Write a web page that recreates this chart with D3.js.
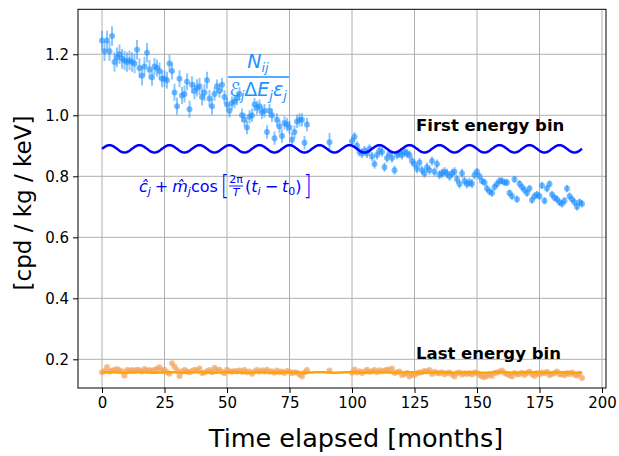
<!DOCTYPE html>
<html>
<head>
<meta charset="utf-8">
<script src="https://cdn.jsdelivr.net/npm/d3@7"></script>
<style>
  body { margin: 0; background: #fff; }
  svg { display: block; font-family: "DejaVu Sans", sans-serif; }
</style>
</head>
<body>
<svg id="chart" width="619" height="456"></svg>
<script>
// ---------------- data ----------------
const xTicks = [0, 25, 50, 75, 100, 125, 150, 175, 200];
const yTicks = [0.2, 0.4, 0.6, 0.8, 1.0, 1.2];

const monthsA = d3.range(0, 83);          // 0..82
const monthsB = [91];
const monthsC = d3.range(100, 193);       // 100..192
const months = monthsA.concat(monthsB, monthsC);

const firstBin = [
  1.245, 1.21, 1.245, 1.21, 1.26,
  1.175, 1.19, 1.20, 1.185, 1.18,
  1.175, 1.18, 1.175, 1.17, 1.215,
  1.155, 1.13, 1.16, 1.205, 1.15,
  1.125, 1.16, 1.155, 1.145, 1.12,
  1.12, 1.115, 1.17, 1.145, 1.075,
  1.03, 1.12, 1.065, 1.07, 1.11,
  1.02, 1.10, 1.08, 1.09, 1.095,
  1.06, 1.075, 1.115, 1.055, 1.03,
  1.07, 1.095, 1.08, 1.10, 1.06,
  1.035, 1.015, 1.04, 1.045, 1.055,
  1.07, 1.00, 0.985, 0.96, 0.995,
  1.00, 1.035, 1.025, 1.03, 1.01,
  1.015, 0.945, 1.015, 1.00, 0.925,
  0.985, 0.963, 0.932, 0.975, 0.97,
  0.96, 0.92, 0.945, 0.98, 0.985,
  0.985, 0.91, 0.97,
  0.912,
  0.915, 0.93, 0.90, 0.88, 0.875,
  0.885, 0.875, 0.89, 0.865, 0.84,
  0.87, 0.885, 0.88, 0.83, 0.86,
  0.875, 0.86, 0.82, 0.87, 0.875,
  0.87, 0.88, 0.875, 0.87, 0.85,
  0.84, 0.825, 0.845, 0.82, 0.81,
  0.83, 0.82, 0.85, 0.815, 0.84,
  0.805, 0.81, 0.815, 0.81, 0.80,
  0.81, 0.815, 0.79, 0.775, 0.81,
  0.785, 0.775, 0.78, 0.776, 0.804,
  0.815, 0.80, 0.785, 0.78, 0.76,
  0.75, 0.745, 0.765, 0.775, 0.785,
  0.785, 0.78, 0.78, 0.745, 0.735,
  0.79, 0.725, 0.776, 0.765, 0.755,
  0.745, 0.76, 0.722, 0.735, 0.74,
  0.735, 0.77, 0.72, 0.76, 0.775,
  0.74, 0.73, 0.725, 0.715, 0.71,
  0.72, 0.76, 0.735, 0.725, 0.715,
  0.70, 0.715, 0.71
];

// error bar half-heights for the first bin, by starting month
const firstBinErrStart = [0, 20, 45, 91, 100, 150];
const firstBinErrValue = [0.032, 0.028, 0.022, 0.03, 0.015, 0.012];

const lastBin = [
  0.158, 0.162, 0.175, 0.160, 0.163,
  0.165, 0.168, 0.164, 0.160, 0.146,
  0.165, 0.163, 0.165, 0.162, 0.166,
  0.164, 0.160, 0.168, 0.163, 0.165,
  0.161, 0.166, 0.168, 0.174, 0.163,
  0.166, 0.158, 0.153, 0.187, 0.176,
  0.165, 0.145, 0.160, 0.165, 0.160,
  0.158, 0.162, 0.166, 0.163, 0.170,
  0.155, 0.157, 0.161, 0.165, 0.158,
  0.172, 0.164, 0.166, 0.159, 0.154,
  0.166, 0.161, 0.159, 0.162, 0.160,
  0.163, 0.159, 0.165, 0.158, 0.160,
  0.153, 0.160, 0.165, 0.159, 0.164,
  0.160, 0.166, 0.159, 0.161, 0.156,
  0.163, 0.158, 0.160, 0.155, 0.162,
  0.159, 0.154, 0.158, 0.156, 0.150,
  0.144, 0.157, 0.165,
  0.163,
  0.156, 0.167, 0.157, 0.161, 0.155,
  0.160, 0.166, 0.159, 0.161, 0.165,
  0.158, 0.164, 0.160, 0.163, 0.167,
  0.165, 0.170, 0.155, 0.158, 0.160,
  0.149, 0.152, 0.155, 0.144, 0.150,
  0.149, 0.154, 0.157, 0.158, 0.162,
  0.160, 0.165, 0.152, 0.159, 0.155,
  0.154, 0.158, 0.151, 0.155, 0.157,
  0.150, 0.144, 0.155, 0.157, 0.150,
  0.154, 0.152, 0.155, 0.150, 0.157,
  0.155, 0.149, 0.144, 0.141, 0.145,
  0.150, 0.146, 0.155, 0.157, 0.159,
  0.163, 0.155, 0.151, 0.148, 0.144,
  0.155, 0.150, 0.152, 0.156, 0.149,
  0.155, 0.160, 0.151, 0.145, 0.155,
  0.150, 0.157, 0.154, 0.159, 0.148,
  0.152, 0.155, 0.160, 0.150, 0.153,
  0.148, 0.155, 0.152, 0.157, 0.150,
  0.146, 0.153, 0.139
];

// fitted model  c + m cos(2π/T (t - t0))
const fitFirst = { c: 0.89, m: 0.012, T: 12, t0: 3 };
const fitLast  = { c: 0.157, m: 0.0008, T: 12, t0: 3 };
const fitSpan = [0, 192];

// ---------------- chart ----------------
const svg = d3.select("#chart");
const x = d3.scaleLinear().domain([-9.6, 201.6]).range([78, 606]);
const y = d3.scaleLinear().domain([0.106, 1.3475]).range([388, 9.3]);

// grid
const grid = svg.append("g");
grid.selectAll("line.gx").data(xTicks).join("line")
  .attr("x1", d => x(d)).attr("x2", d => x(d))
  .attr("y1", y.range()[0]).attr("y2", y.range()[1])
  .attr("stroke", "#b0b0b0").attr("stroke-width", 1);
grid.selectAll("line.gy").data(yTicks).join("line")
  .attr("y1", d => y(d)).attr("y2", d => y(d))
  .attr("x1", x.range()[0]).attr("x2", x.range()[1])
  .attr("stroke", "#b0b0b0").attr("stroke-width", 1);

const errOf = t => {
  let e = firstBinErrValue[0];
  firstBinErrStart.forEach((s, i) => { if (t >= s) e = firstBinErrValue[i]; });
  return e;
};

const ptsFirst = months.map((t, i) => ({ t, v: firstBin[i], e: errOf(t) }));
const ptsLast = months.map((t, i) => ({ t, v: lastBin[i], e: 0.004 }));

// first bin error bars + points
const gF = svg.append("g");
gF.selectAll("line").data(ptsFirst).join("line")
  .attr("x1", d => x(d.t)).attr("x2", d => x(d.t))
  .attr("y1", d => y(d.v - d.e)).attr("y2", d => y(d.v + d.e))
  .attr("stroke", "#1e90ff").attr("stroke-opacity", 0.5).attr("stroke-width", 2);
gF.selectAll("circle").data(ptsFirst).join("circle")
  .attr("cx", d => x(d.t)).attr("cy", d => y(d.v)).attr("r", 3)
  .attr("fill", "#1e90ff").attr("fill-opacity", 0.6);

// last bin points
const gL = svg.append("g");
gL.selectAll("line").data(ptsLast).join("line")
  .attr("x1", d => x(d.t)).attr("x2", d => x(d.t))
  .attr("y1", d => y(d.v - d.e)).attr("y2", d => y(d.v + d.e))
  .attr("stroke", "#f4a460").attr("stroke-opacity", 0.5).attr("stroke-width", 2);
gL.selectAll("circle").data(ptsLast).join("circle")
  .attr("cx", d => x(d.t)).attr("cy", d => y(d.v)).attr("r", 3)
  .attr("fill", "#f4a460").attr("fill-opacity", 0.7);

// fit lines
const tFine = d3.range(fitSpan[0], fitSpan[1] + 0.001, 0.25);
const model = p => t => p.c + p.m * Math.cos(2 * Math.PI / p.T * (t - p.t0));
const line = d3.line().x(d => x(d[0])).y(d => y(d[1]));
svg.append("path").datum(tFine.map(t => [t, model(fitFirst)(t)]))
  .attr("d", line).attr("fill", "none").attr("stroke", "#0000ff").attr("stroke-width", 2.5);
svg.append("path").datum(tFine.map(t => [t, model(fitLast)(t)]))
  .attr("d", line).attr("fill", "none").attr("stroke", "#ffa500").attr("stroke-width", 2.5);

// axes
const xAxis = svg.append("g").attr("transform", `translate(0,${y.range()[0]})`)
  .call(d3.axisBottom(x).tickValues(xTicks).tickFormat(d3.format("d")).tickSizeInner(5).tickSizeOuter(0).tickPadding(4));
const yAxis = svg.append("g").attr("transform", `translate(${x.range()[0]},0)`)
  .call(d3.axisLeft(y).tickValues(yTicks).tickFormat(d3.format(".1f")).tickSizeInner(5).tickSizeOuter(0).tickPadding(4));
[xAxis, yAxis].forEach(a => {
  a.select(".domain").remove();
  a.selectAll("text").attr("font-size", 15).attr("font-family", "DejaVu Sans").attr("fill", "#000");
  a.selectAll("line").attr("stroke", "#000");
});
// frame
svg.append("rect").attr("x", x.range()[0]).attr("y", y.range()[1])
  .attr("width", x.range()[1] - x.range()[0]).attr("height", y.range()[0] - y.range()[1])
  .attr("fill", "none").attr("stroke", "#000").attr("stroke-width", 1);

// axis labels
svg.append("text").attr("x", 356).attr("y", 447).attr("text-anchor", "middle")
  .attr("font-size", 25.5).text("Time elapsed [months]");
svg.append("text").attr("transform", "translate(31,203) rotate(-90)").attr("text-anchor", "middle")
  .attr("font-size", 23).text("[cpd / kg / keV]");

// annotations
svg.append("text").attr("x", 416).attr("y", 131).attr("font-size", 16.5).attr("font-weight", "bold")
  .text("First energy bin");
svg.append("text").attr("x", 416).attr("y", 359).attr("font-size", 16.5).attr("font-weight", "bold")
  .text("Last energy bin");

// N_ij / (E_j ΔE_j ε_j)
const cBlue = "#1e90ff";
const num = svg.append("text").attr("x", 258).attr("y", 68).attr("text-anchor", "middle")
  .attr("fill", cBlue).attr("font-size", 19);
num.append("tspan").attr("font-style", "italic").text("N");
num.append("tspan").attr("font-style", "italic").attr("font-size", 13).attr("dy", 4).text("ij");
svg.append("line").attr("x1", 228).attr("x2", 289).attr("y1", 77).attr("y2", 77)
  .attr("stroke", cBlue).attr("stroke-width", 1.3);
const den = svg.append("text").attr("x", 258).attr("y", 96).attr("text-anchor", "middle")
  .attr("fill", cBlue).attr("font-size", 19).attr("font-style", "italic");
den.append("tspan").text("ℰ");
den.append("tspan").attr("font-size", 13).attr("dy", 4).text("j");
den.append("tspan").attr("font-style", "normal").attr("dy", -4).text("Δ");
den.append("tspan").text("E");
den.append("tspan").attr("font-size", 13).attr("dy", 4).text("j");
den.append("tspan").attr("dy", -4).text("ε");
den.append("tspan").attr("font-size", 13).attr("dy", 4).text("j");

// ĉ_j + m̂_j cos[2π/T (t_i − t_0)]
const fBlue = "#0000ff";
const fs = 16, base = 192;
let cx = 139;
function piece(txt, opts = {}) {
  const t = svg.append("text").attr("x", cx).attr("y", base + (opts.dy || 0))
    .attr("fill", fBlue).attr("font-size", opts.size || fs)
    .attr("font-style", opts.italic ? "italic" : "normal")
    .attr("font-weight", opts.weight || "normal").text(txt);
  if (opts.scaleY) t.attr("transform", `translate(0,${base}) scale(1,${opts.scaleY}) translate(0,${-base})`);
  cx += t.node().getComputedTextLength() + (opts.gap || 0);
  return t;
}
piece("ĉ", { italic: true });
piece("j", { italic: true, size: 11, dy: 3, gap: 4 });
piece("+", { gap: 4 });
piece("m\u0302", { italic: true });
piece("j", { italic: true, size: 11, dy: 3 });
piece("cos", { gap: 3 });
piece("[", { size: 21, dy: 2, scaleY: 1.25, weight: "300" });
// small fraction 2π / T
const fx = cx;
svg.append("text").attr("x", fx + 7).attr("y", 183).attr("text-anchor", "middle")
  .attr("fill", fBlue).attr("font-size", 11).text("2π");
svg.append("line").attr("x1", fx).attr("x2", fx + 14).attr("y1", 186).attr("y2", 186)
  .attr("stroke", fBlue).attr("stroke-width", 0.9);
svg.append("text").attr("x", fx + 7).attr("y", 195.5).attr("text-anchor", "middle")
  .attr("fill", fBlue).attr("font-size", 11).attr("font-style", "italic").text("T");
cx = fx + 16;
piece("(");
piece("t", { italic: true });
piece("i", { italic: true, size: 11, dy: 3, gap: 4 });
piece("−", { gap: 4 });
piece("t", { italic: true });
piece("0", { size: 11, dy: 3 });
piece(")", { gap: 2 });
piece("]", { size: 21, dy: 2, scaleY: 1.25, weight: "300" });
</script>
</body>
</html>
